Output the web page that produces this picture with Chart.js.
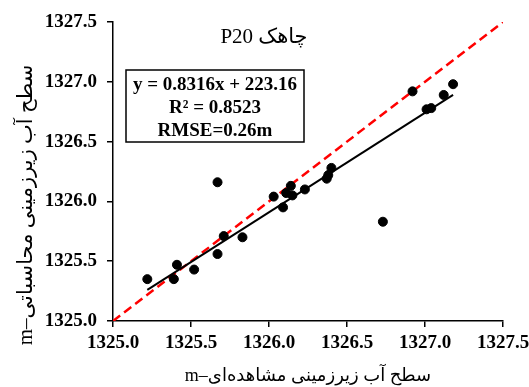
<!DOCTYPE html>
<html>
<head>
<meta charset="utf-8">
<script src="https://cdn.jsdelivr.net/npm/chart.js@4/dist/chart.umd.min.js"></script>
<style>
  html, body { margin: 0; padding: 0; background: #fff; }
  #wrap { width: 529px; height: 387px; }
</style>
</head>
<body>
<div id="wrap"><canvas id="c"></canvas></div>
<script>
// observed (x) vs simulated (y) groundwater level, m
const observed = [1325.22, 1325.39, 1325.41, 1325.52, 1325.67, 1325.67, 1325.71, 1325.83,
                  1326.03, 1326.09, 1326.11, 1326.14, 1326.15, 1326.23, 1326.37, 1326.38,
                  1326.40, 1326.73, 1326.92, 1327.01, 1327.04, 1327.12, 1327.18];
const simulated = [1325.35, 1325.35, 1325.47, 1325.43, 1325.56, 1326.16, 1325.71, 1325.70,
                   1326.04, 1325.95, 1326.07, 1326.13, 1326.05, 1326.10, 1326.19, 1326.22,
                   1326.28, 1325.83, 1326.92, 1326.77, 1326.78, 1326.89, 1326.98];

// trend line end points and 1:1 line
const fitX = [1325.22, 1327.18];
const fitY = [1325.26, 1326.89];
const oneToOne = [1325.0, 1327.5];

const axisMin = 1325.0, axisMax = 1327.5, axisStep = 0.5;

const chartTitle = 'چاهک P20';
const xTitle = 'سطح آب زیرزمینی مشاهده‌ای–m';
const yTitle = 'سطح آب زیرزمینی محاسباتی–m';
const statsLines = ['y = 0.8316x + 223.16', 'R² = 0.8523', 'RMSE=0.26m'];

const serif = '"Liberation Serif", "Times New Roman", "DejaVu Serif", "DejaVu Sans", serif';

// draws title, axis titles and the stats box
const textPlugin = {
    id: 'texts',
    afterDraw(chart) {
        const ctx = chart.ctx;
        const a = chart.chartArea;
        ctx.save();
        ctx.fillStyle = '#000';
        ctx.textAlign = 'center';
        ctx.textBaseline = 'middle';

        ctx.direction = 'rtl';
        ctx.font = '21px ' + serif;
        ctx.fillText(chartTitle, 264, 37);

        ctx.font = '18px ' + serif;
        ctx.fillText(xTitle, (a.left + a.right) / 2, 376);

        ctx.save();
        ctx.translate(26, 205);
        ctx.rotate(-Math.PI / 2);
        ctx.font = '21px ' + serif;
        ctx.fillText(yTitle, 0, 0);
        ctx.restore();

        ctx.direction = 'ltr';
        // stats box
        ctx.fillStyle = '#fff';
        ctx.fillRect(126, 70, 178, 72);
        ctx.strokeStyle = '#000';
        ctx.lineWidth = 1.5;
        ctx.strokeRect(126, 70, 178, 72);
        ctx.fillStyle = '#000';
        ctx.font = 'bold 19px ' + serif;
        const ys = [85, 108, 131];
        statsLines.forEach((t, i) => ctx.fillText(t, 215, ys[i]));
        ctx.restore();
    }
};

const tickFont = { family: serif, size: 19, weight: 'bold' };

new Chart(document.getElementById('c'), {
    type: 'scatter',
    data: {
        datasets: [{
            label: '1:1',
            data: oneToOne.map(v => ({ x: v, y: v })),
            showLine: true,
            borderColor: '#ff0000',
            borderWidth: 2.5,
            borderDash: [9, 5],
            pointRadius: 0,
            order: 3
        }, {
            label: 'trend',
            data: fitX.map((v, i) => ({ x: v, y: fitY[i] })),
            showLine: true,
            borderColor: '#000',
            borderWidth: 2,
            pointRadius: 0,
            order: 2
        }, {
            label: 'points',
            data: observed.map((v, i) => ({ x: v, y: simulated[i] })),
            backgroundColor: '#000',
            borderColor: '#000',
            pointRadius: 4.5,
            order: 1
        }]
    },
    options: {
        responsive: true,
        maintainAspectRatio: false,
        animation: false,
        layout: { padding: { left: 0, top: 22, right: 26, bottom: 0 } },
        plugins: {
            legend: { display: false },
            tooltip: { enabled: false }
        },
        scales: {
            x: {
                type: 'linear',
                min: axisMin,
                max: axisMax,
                afterFit: (s) => { s.height = 66; s.paddingLeft = 0; s.paddingRight = 0; },
                grid: { drawOnChartArea: false, color: '#000', tickLength: 6, lineWidth: 1.5 },
                border: { color: '#000', width: 1.5 },
                ticks: {
                    stepSize: axisStep,
                    color: '#000',
                    font: tickFont,
                    padding: 5,
                    maxRotation: 0,
                    callback: (v) => v.toFixed(1)
                }
            },
            y: {
                type: 'linear',
                min: axisMin,
                max: axisMax,
                afterFit: (s) => { s.width = 113; s.paddingTop = 0; s.paddingBottom = 0; },
                grid: { drawOnChartArea: false, color: '#000', tickLength: 6, lineWidth: 1.5 },
                border: { color: '#000', width: 1.5 },
                ticks: {
                    stepSize: axisStep,
                    color: '#000',
                    font: tickFont,
                    padding: 10,
                    callback: (v) => v.toFixed(1)
                }
            }
        }
    },
    plugins: [textPlugin]
});
</script>
</body>
</html>
